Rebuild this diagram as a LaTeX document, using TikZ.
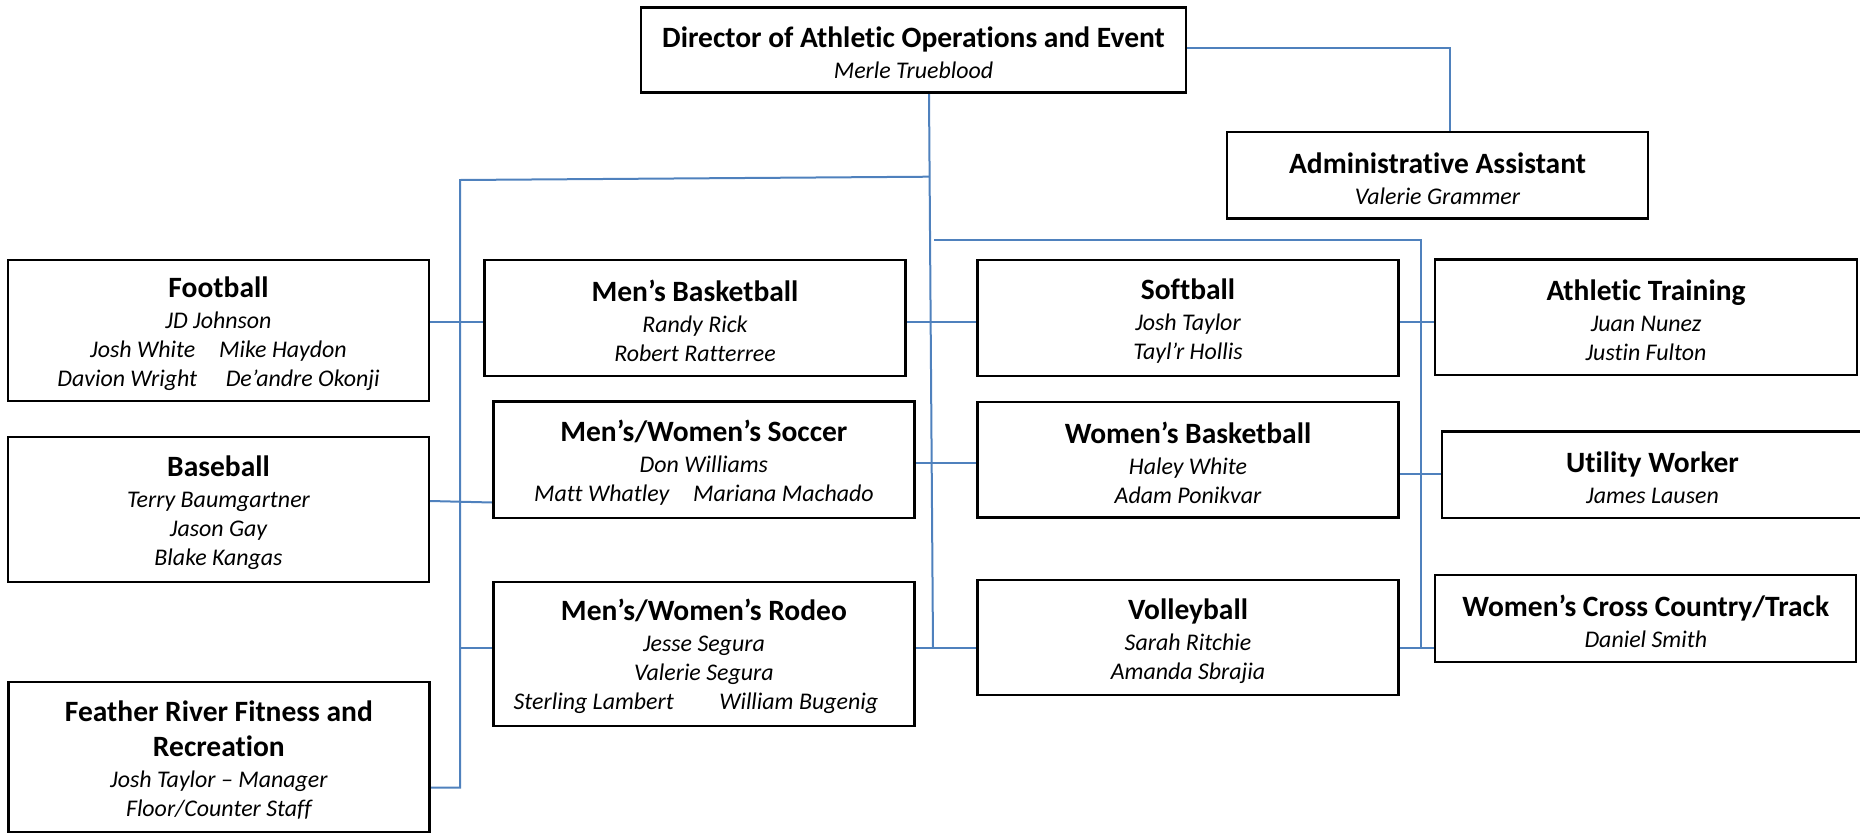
\documentclass[tikz,border=0pt]{standalone}
\usepackage{fontspec}
\setmainfont{Carlito}[RawFeature={-liga;-clig;-calt;-dlig}]
\usetikzlibrary{backgrounds}
\definecolor{conn}{RGB}{79,129,189}
\newcommand{\namefont}{\fontsize{23.9}{29}\selectfont\itshape}
\newcommand{\ttl}[1]{{\fontsize{29.5}{33}\selectfont\bfseries\upshape #1}}
\tikzset{
  box/.style={draw=black, line width=2.2pt, inner sep=0pt},
  txt/.style={inner sep=0pt, align=center, font=\namefont, yshift=-3pt},
  link/.style={draw=conn, line width=2pt},
}
\begin{document}
\begin{tikzpicture}[x=1pt, y=-1pt]
\useasboundingbox (0,0) rectangle (1860,833);
% boxes
\node[box, minimum width=545pt, minimum height=85pt] (dir) at (913.5,50) {};
\node[box, minimum width=421pt, minimum height=86.5pt] (admin) at (1437.5,175.3) {};
\node[box, minimum width=421pt, minimum height=141pt] (football) at (218.5,330.5) {};
\node[box, minimum width=421pt, minimum height=115.7pt] (mbb) at (695,317.9) {};
\node[box, minimum width=421pt, minimum height=116pt] (softball) at (1188,318) {};
\node[box, minimum width=422pt, minimum height=115.5pt] (at) at (1646,317.3) {};
\node[box, minimum width=421pt, minimum height=145pt] (baseball) at (218.5,509.2) {};
\node[box, minimum width=421pt, minimum height=116.5pt] (soccer) at (703.9,459.8) {};
\node[box, minimum width=421pt, minimum height=115.5pt] (wbb) at (1188,459.8) {};
\node[box, minimum width=421pt, minimum height=86.5pt] (utility) at (1652.5,474.8) {};
\node[box, minimum width=421pt, minimum height=86.4pt] (xc) at (1645.8,618.5) {};
\node[box, minimum width=421pt, minimum height=144pt] (rodeo) at (703.9,653.6) {};
\node[box, minimum width=421pt, minimum height=115.3pt] (volley) at (1188,637.7) {};
\node[box, minimum width=421pt, minimum height=150pt] (feather) at (218.9,756.6) {};
% texts
\node[txt] (dirT) at (dir.center) {\ttl{Director of Athletic Operations and Event}\\[2pt]Merle Trueblood};
\node[txt] (adminT) at (admin.center) {\ttl{Administrative Assistant}\\[2pt]Valerie Grammer};
\node[txt] (footballT) at (football.center) {\ttl{Football}\\[2pt]JD Johnson\\Josh White\hspace{1em}Mike Haydon\\Davion Wright\hspace{1.2em}De’andre Okonji};
\node[txt] (mbbT) at (mbb.center) {\ttl{Men’s Basketball}\\[2pt]Randy Rick\\Robert Ratterree};
\node[txt] (softballT) at (softball.center) {\ttl{Softball}\\[2pt]Josh Taylor\\Tayl’r Hollis};
\node[txt] (atT) at (at.center) {\ttl{Athletic Training}\\[2pt]Juan Nunez\\Justin Fulton};
\node[txt] (baseballT) at (baseball.center) {\ttl{Baseball}\\[2pt]Terry Baumgartner\\Jason Gay\\Blake Kangas};
\node[txt] (soccerT) at (soccer.center) {\ttl{Men’s/Women’s Soccer}\\[2pt]Don Williams\\Matt Whatley\hspace{1em}Mariana Machado};
\node[txt] (wbbT) at (wbb.center) {\ttl{Women’s Basketball}\\[2pt]Haley White\\Adam Ponikvar};
\node[txt] (utilityT) at (utility.center) {\ttl{Utility Worker}\\[2pt]James Lausen};
\node[txt] (xcT) at (xc.center) {\ttl{Women’s Cross Country/Track}\\[2pt]Daniel Smith};
\node[txt] (rodeoT) at (rodeo.center) {\ttl{Men’s/Women’s Rodeo}\\[2pt]Jesse Segura\\Valerie Segura\\Sterling Lambert\hspace{1.9em}William Bugenig\rule{16pt}{0pt}};
\node[txt] (volleyT) at (volley.center) {\ttl{Volleyball}\\[2pt]Sarah Ritchie\\Amanda Sbrajia};
\node[txt] (featherT) at (feather.center) {\ttl{Feather River Fitness and}\\[6pt]\ttl{Recreation}\\[2pt]Josh Taylor – Manager\\Floor/Counter Staff};
% junction coordinates
\coordinate (tTop) at (929,176.7);
\coordinate (tBot) at (933,648.3);
\coordinate (lTop) at (460,180);
\coordinate (lBot) at (460,787.7);
\coordinate (rStart) at (934.3,239.7);
\coordinate (rTop) at (1421,239.7);
\coordinate (rBot) at (1421,648.3);
\coordinate (r1) at (0,321.5);
\coordinate (r2) at (0,462.7);
\coordinate (r3) at (0,648.3);
\coordinate (r4) at (0,473.5);
\begin{pgfonlayer}{background}
\draw[link] ([yshift=1.7pt]dir.east) -| ([xshift=12.5pt]admin.north);
\draw[link] (dir.south -| tTop) -- (tBot);
\draw[link] (tTop) -- (lTop) -- (lBot) -- (feather.east |- lBot);
\draw[link] (football.east |- r1) -- (mbb.west |- r1);
\draw[link] ([yshift=8.2pt]baseball.east) -- ([yshift=-42.7pt]soccer.west);
\draw[link] (lTop |- r3) -- (rodeo.west |- r3);
\draw[link] (mbb.east |- r1) -- (softball.west |- r1);
\draw[link] (rStart) -- (rTop) -- (rBot);
\draw[link] (soccer.east |- r2) -- (wbb.west |- r2);
\draw[link] (rodeo.east |- r3) -- (volley.west |- r3);
\draw[link] (softball.east |- r1) -- (at.west |- r1);
\draw[link] (wbb.east |- r4) -- (utility.west |- r4);
\draw[link] (volley.east |- r3) -- (xc.west |- r3);
\end{pgfonlayer}
\end{tikzpicture}
\end{document}
